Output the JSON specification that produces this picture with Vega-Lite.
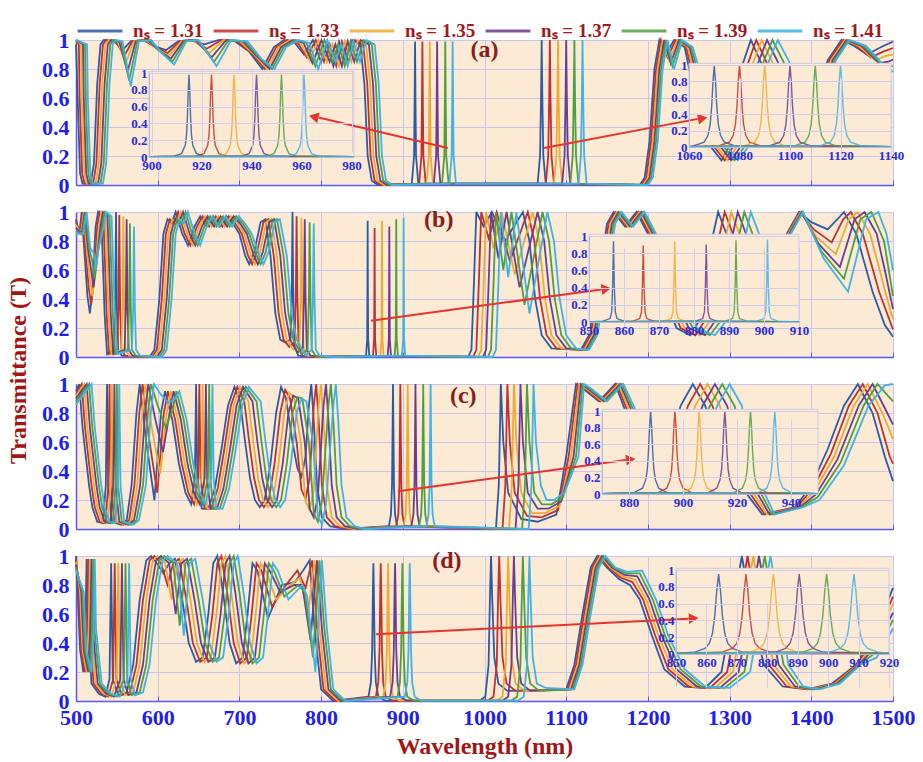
{
  "$schema": "https://vega.github.io/schema/vega-lite/v6.json",
  "background": "white",
  "padding": {"left": 5, "top": 7, "right": 4, "bottom": 2},
  "bounds": "flush",
  "spacing": 27,
  "config": {
    "font": "Liberation Serif",
    "view": {"fill": "#fcead4", "stroke": "#8f8fe6", "strokeWidth": 1},
    "axis": {"labelFont": "Liberation Serif", "labelFontWeight": "bold", "labelColor": "#1e1ef0", "domainColor": "#5a5af0", "domainWidth": 1.5, "tickColor": "#5a5af0", "gridColor": "#c9c5ef", "gridWidth": 1, "titleFont": "Liberation Serif", "titleFontWeight": "bold", "titleColor": "#a31515"},
    "legend": {"symbolType": "stroke", "symbolStrokeWidth": 3, "symbolSize": 2000, "labelFont": "Liberation Serif", "labelFontWeight": "bold", "labelFontSize": 19, "labelColor": "#a5171c", "labelOffset": 9, "columnPadding": 3, "labelLimit": 200}
  },
  "datasets": {
    "a_main": [
      {"s": "nₛ = 1.31", "pts": [[500,0.97],[502,0.6],[505,0.08],[508,0.01],[518,0.01],[522,0.15],[526,0.7],[530,0.97],[534,1.0],[547,0.99],[557,0.93],[567,0.99],[582,1.0],[595,0.96],[610,0.93],[625,0.99],[640,1.0],[657,0.97],[675,1.0],[695,0.99],[712,0.92],[728,0.8],[742,0.95],[755,1.0],[768,0.98],[779,0.9],[790,1.0],[800,0.85],[807,0.97],[815,0.82],[822,0.99],[830,0.85],[838,1.0],[848,0.97],[853,0.7],[857,0.2],[862,0.03],[870,0.0],[911,0.01],[913.8,0.2],[914.5,0.6],[915,0.99],[915.5,0.6],[916.2,0.2],[919,0.01],[1065,0.01],[1068,0.2],[1069.2,0.6],[1070,1.0],[1070.8,0.6],[1072,0.2],[1075,0.01],[1190,0],[1196,0.05],[1202,0.3],[1208,0.8],[1214,1.0],[1222,0.9],[1232,1.0],[1245,0.95],[1258,0.6],[1272,0.3],[1290,0.17],[1303,0.3],[1314,0.8],[1326,1.0],[1338,0.85],[1350,0.6],[1375,0.35],[1398,0.35],[1420,0.86],[1437,1.0],[1452,0.96],[1468,0.9],[1485,0.95],[1500,0.99]]},
      {"s": "nₛ = 1.33", "pts": [[500,0.99],[503.5,0.97],[504.5,0.6],[507.5,0.08],[510.5,0.01],[521,0.01],[525,0.15],[529,0.7],[533,0.97],[537,1.0],[549,0.99],[559,0.89],[569,0.99],[584,1.0],[597,0.95],[612,0.91],[627,0.99],[642,1.0],[660,0.94],[678,1.0],[698,0.99],[715,0.91],[731,0.8],[745,0.95],[758.5,1.0],[771.5,0.98],[782.5,0.88],[793.5,1.0],[803.5,0.85],[810.5,0.97],[818.5,0.82],[825.5,0.99],[833.5,0.85],[841.5,1.0],[851.5,0.97],[856.5,0.7],[860.5,0.2],[865.5,0.03],[873.5,0.0],[920,0.01],[922.8,0.2],[923.5,0.6],[924,0.99],[924.5,0.6],[925.2,0.2],[928,0.01],[1075,0.01],[1078,0.2],[1079.2,0.6],[1080,1.0],[1080.8,0.6],[1082,0.2],[1085,0.01],[1192,0],[1198,0.05],[1204,0.3],[1210,0.8],[1216,1.0],[1224,0.88],[1234,1.0],[1247,0.95],[1261,0.6],[1276,0.3],[1294,0.17],[1308,0.3],[1320,0.8],[1332.6,1.0],[1345,0.85],[1357,0.6],[1380,0.35],[1401,0.35],[1422,0.86],[1439,1.0],[1455,0.96],[1473,0.88],[1488,0.92],[1500,0.945]]},
      {"s": "nₛ = 1.35", "pts": [[500,1.0],[506,0.97],[507,0.6],[510,0.08],[513,0.01],[524,0.01],[528,0.15],[532,0.7],[536,0.97],[540,1.0],[551,0.99],[561,0.84],[571,0.99],[586,1.0],[599,0.94],[614,0.89],[629,0.99],[644,1.0],[663,0.91],[681,1.0],[701,0.99],[718,0.9],[734,0.8],[748,0.95],[762,1.0],[775,0.98],[786,0.86],[797,1.0],[807,0.85],[814,0.97],[822,0.82],[829,0.99],[837,0.85],[845,1.0],[855,0.97],[860,0.7],[864,0.2],[869,0.03],[877,0.0],[929,0.01],[931.8,0.2],[932.5,0.6],[933,0.99],[933.5,0.6],[934.2,0.2],[937,0.01],[1085,0.01],[1088,0.2],[1089.2,0.6],[1090,1.0],[1090.8,0.6],[1092,0.2],[1095,0.01],[1194,0],[1200,0.05],[1206,0.3],[1212,0.8],[1218,1.0],[1226,0.86],[1236,1.0],[1249,0.95],[1264,0.6],[1280,0.3],[1298,0.17],[1313,0.3],[1326,0.8],[1339.2,1.0],[1352,0.85],[1364,0.6],[1385,0.35],[1404,0.35],[1424,0.86],[1441,1.0],[1458,0.96],[1478,0.86],[1491,0.89],[1500,0.9]]},
      {"s": "nₛ = 1.37", "pts": [[500,1.0],[508.5,0.97],[509.5,0.6],[512.5,0.08],[515.5,0.01],[527,0.01],[531,0.15],[535,0.7],[539,0.97],[543,1.0],[553,0.99],[563,0.78],[573,0.99],[588,1.0],[601,0.93],[616,0.87],[631,0.99],[646,1.0],[666,0.88],[684,1.0],[704,0.99],[721,0.89],[737,0.8],[751,0.95],[765.5,1.0],[778.5,0.98],[789.5,0.84],[800.5,1.0],[810.5,0.85],[817.5,0.97],[825.5,0.82],[832.5,0.99],[840.5,0.85],[848.5,1.0],[858.5,0.97],[863.5,0.7],[867.5,0.2],[872.5,0.03],[880.5,0.0],[938,0.01],[940.8,0.2],[941.5,0.6],[942,0.99],[942.5,0.6],[943.2,0.2],[946,0.01],[1095,0.01],[1098,0.2],[1099.2,0.6],[1100,1.0],[1100.8,0.6],[1102,0.2],[1105,0.01],[1196,0],[1202,0.05],[1208,0.3],[1214,0.8],[1220,1.0],[1228,0.84],[1238,1.0],[1251,0.95],[1267,0.6],[1284,0.3],[1302,0.17],[1318,0.3],[1332,0.8],[1345.8,1.0],[1359,0.85],[1371,0.6],[1390,0.35],[1407,0.35],[1426,0.86],[1443,1.0],[1461,0.96],[1483,0.84],[1494,0.85],[1500,0.865]]},
      {"s": "nₛ = 1.39", "pts": [[500,1.0],[511,0.97],[512,0.6],[515,0.08],[518,0.01],[530,0.01],[534,0.15],[538,0.7],[542,0.97],[546,1.0],[555,0.99],[565,0.72],[575,0.99],[590,1.0],[603,0.92],[618,0.85],[633,0.99],[648,1.0],[669,0.85],[687,1.0],[707,0.99],[724,0.88],[740,0.8],[754,0.95],[769,1.0],[782,0.98],[793,0.82],[804,1.0],[814,0.85],[821,0.97],[829,0.82],[836,0.99],[844,0.85],[852,1.0],[862,0.97],[867,0.7],[871,0.2],[876,0.03],[884,0.0],[948,0.01],[950.8,0.2],[951.5,0.6],[952,0.99],[952.5,0.6],[953.2,0.2],[956,0.01],[1105,0.01],[1108,0.2],[1109.2,0.6],[1110,1.0],[1110.8,0.6],[1112,0.2],[1115,0.01],[1198,0],[1204,0.05],[1210,0.3],[1216,0.8],[1222,1.0],[1230,0.82],[1240,1.0],[1253,0.95],[1270,0.6],[1288,0.3],[1306,0.17],[1323,0.3],[1338,0.8],[1352.4,1.0],[1366,0.85],[1378,0.6],[1395,0.35],[1410,0.35],[1428,0.86],[1445,1.0],[1464,0.96],[1488,0.82],[1500,0.82]]},
      {"s": "nₛ = 1.41", "pts": [[500,1.0],[513.5,0.97],[514.5,0.6],[517.5,0.08],[520.5,0.01],[533,0.01],[537,0.15],[541,0.7],[545,0.97],[549,1.0],[557,0.99],[567,0.68],[577,0.99],[592,1.0],[605,0.91],[620,0.83],[635,0.99],[650,1.0],[672,0.82],[690,1.0],[710,0.99],[727,0.87],[743,0.8],[757,0.95],[772.5,1.0],[785.5,0.98],[796.5,0.8],[807.5,1.0],[817.5,0.85],[824.5,0.97],[832.5,0.82],[839.5,0.99],[847.5,0.85],[855.5,1.0],[865.5,0.97],[870.5,0.7],[874.5,0.2],[879.5,0.03],[887.5,0.0],[957,0.01],[959.8,0.2],[960.5,0.6],[961,0.99],[961.5,0.6],[962.2,0.2],[965,0.01],[1115,0.01],[1118,0.2],[1119.2,0.6],[1120,1.0],[1120.8,0.6],[1122,0.2],[1125,0.01],[1200,0],[1206,0.05],[1212,0.3],[1218,0.8],[1224,1.0],[1232,0.8],[1242,1.0],[1255,0.95],[1273,0.6],[1292,0.3],[1310,0.17],[1328,0.3],[1344,0.8],[1359,1.0],[1373,0.85],[1385,0.6],[1400,0.35],[1413,0.35],[1430,0.86],[1447,1.0],[1467,0.96],[1493,0.8],[1500,0.78]]}
    ],
    "a_insL": [
      {"s": "nₛ = 1.31", "pts": [[899,0.003],[909,0.01],[912,0.04],[913.5,0.14],[914,0.26],[914.4,0.5],[914.7,0.8],[915,0.98],[915.3,0.8],[915.6,0.5],[916,0.26],[916.5,0.14],[918,0.04],[921,0.01],[981,0.003]]},
      {"s": "nₛ = 1.33", "pts": [[899,0.003],[918,0.01],[921,0.04],[922.5,0.14],[923,0.26],[923.4,0.5],[923.7,0.8],[924,0.98],[924.3,0.8],[924.6,0.5],[925,0.26],[925.5,0.14],[927,0.04],[930,0.01],[981,0.003]]},
      {"s": "nₛ = 1.35", "pts": [[899,0.003],[927,0.01],[930,0.04],[931.5,0.14],[932,0.26],[932.4,0.5],[932.7,0.8],[933,0.98],[933.3,0.8],[933.6,0.5],[934,0.26],[934.5,0.14],[936,0.04],[939,0.01],[981,0.003]]},
      {"s": "nₛ = 1.37", "pts": [[899,0.003],[936,0.01],[939,0.04],[940.5,0.14],[941,0.26],[941.4,0.5],[941.7,0.8],[942,0.98],[942.3,0.8],[942.6,0.5],[943,0.26],[943.5,0.14],[945,0.04],[948,0.01],[981,0.003]]},
      {"s": "nₛ = 1.39", "pts": [[899,0.003],[946,0.01],[949,0.04],[950.5,0.14],[951,0.26],[951.4,0.5],[951.7,0.8],[952,0.98],[952.3,0.8],[952.6,0.5],[953,0.26],[953.5,0.14],[955,0.04],[958,0.01],[981,0.003]]},
      {"s": "nₛ = 1.41", "pts": [[899,0.003],[955,0.01],[958,0.04],[959.5,0.14],[960,0.26],[960.4,0.5],[960.7,0.8],[961,0.98],[961.3,0.8],[961.6,0.5],[962,0.26],[962.5,0.14],[964,0.04],[967,0.01],[981,0.003]]}
    ],
    "a_insR": [
      {"s": "nₛ = 1.31", "pts": [[1060,0.005],[1062,0.015],[1066,0.06],[1067.5,0.14],[1068.4,0.28],[1069,0.5],[1069.5,0.8],[1070,1.0],[1070.5,0.8],[1071,0.5],[1071.6,0.28],[1072.5,0.14],[1074,0.06],[1078,0.015],[1140,0.005]]},
      {"s": "nₛ = 1.33", "pts": [[1060,0.005],[1072,0.015],[1076,0.06],[1077.5,0.14],[1078.4,0.28],[1079,0.5],[1079.5,0.8],[1080,1.0],[1080.5,0.8],[1081,0.5],[1081.6,0.28],[1082.5,0.14],[1084,0.06],[1088,0.015],[1140,0.005]]},
      {"s": "nₛ = 1.35", "pts": [[1060,0.005],[1082,0.015],[1086,0.06],[1087.5,0.14],[1088.4,0.28],[1089,0.5],[1089.5,0.8],[1090,1.0],[1090.5,0.8],[1091,0.5],[1091.6,0.28],[1092.5,0.14],[1094,0.06],[1098,0.015],[1140,0.005]]},
      {"s": "nₛ = 1.37", "pts": [[1060,0.005],[1092,0.015],[1096,0.06],[1097.5,0.14],[1098.4,0.28],[1099,0.5],[1099.5,0.8],[1100,1.0],[1100.5,0.8],[1101,0.5],[1101.6,0.28],[1102.5,0.14],[1104,0.06],[1108,0.015],[1140,0.005]]},
      {"s": "nₛ = 1.39", "pts": [[1060,0.005],[1102,0.015],[1106,0.06],[1107.5,0.14],[1108.4,0.28],[1109,0.5],[1109.5,0.8],[1110,1.0],[1110.5,0.8],[1111,0.5],[1111.6,0.28],[1112.5,0.14],[1114,0.06],[1118,0.015],[1140,0.005]]},
      {"s": "nₛ = 1.41", "pts": [[1060,0.005],[1112,0.015],[1116,0.06],[1117.5,0.14],[1118.4,0.28],[1119,0.5],[1119.5,0.8],[1120,1.0],[1120.5,0.8],[1121,0.5],[1121.6,0.28],[1122.5,0.14],[1124,0.06],[1128,0.015],[1140,0.005]]}
    ],
    "b_main": [
      {"s": "nₛ = 1.31", "pts": [[500,0.95],[504,0.85],[507,1.0],[510,0.75],[514,0.42],[517,0.3],[520,0.45],[524,0.9],[527,1.0],[531,0.97],[535,0.3],[538,0.02],[546.5,0.05],[548,0.35],[549,1.0],[550,0.35],[551.5,0.05],[556,0.01],[590,0.0],[596,0.05],[602,0.4],[607,0.85],[612,0.95],[617,0.92],[622,1.0],[630,0.85],[637,0.77],[645,0.9],[652,0.97],[660,0.9],[668,0.97],[676,0.9],[684,0.97],[692,0.92],[700,0.85],[707,0.7],[712,0.64],[718,0.72],[726,0.93],[732,0.95],[738,0.7],[744,0.3],[750,0.12],[756,0.1],[762.5,0.12],[764,0.4],[765,1.0],[766,0.4],[767.5,0.08],[772,0.01],[790,0.0],[855,0.01],[856.4,0.12],[856.75,0.5],[857,0.94],[857.25,0.5],[857.6,0.12],[859,0.01],[980,0],[984,0.05],[987,0.5],[990,1.0],[999,0.9],[1009,1.0],[1025,0.8],[1047,1.0],[1055,0.8],[1062,0.4],[1070,0.15],[1082,0.06],[1118,0.05],[1128,0.15],[1140,0.55],[1150,0.92],[1158,1.0],[1172,0.9],[1186,1.0],[1200,0.85],[1215,0.5],[1235,0.2],[1252,0.15],[1268,0.3],[1278,0.8],[1286,1.0],[1296,0.85],[1320,0.5],[1350,0.5],[1370,0.85],[1385,1.0],[1400,0.93],[1420,0.88],[1432,0.95],[1440,1.0],[1455,0.85],[1475,0.45],[1490,0.22],[1500,0.14]]},
      {"s": "nₛ = 1.33", "pts": [[500,0.93],[505,0.85],[508.2,1.0],[511.5,0.75],[515.5,0.48],[518.5,0.36],[521.5,0.51],[526,0.9],[529,1.0],[533.5,0.97],[537.5,0.3],[540.5,0.02],[550.5,0.05],[552,0.35],[553,0.98],[554,0.35],[555.5,0.05],[560,0.01],[593,0.0],[599,0.05],[605,0.4],[610,0.85],[615,0.95],[620,0.92],[625,1.0],[633,0.85],[640,0.77],[648,0.9],[655,0.97],[663,0.9],[671,0.97],[679,0.9],[687,0.97],[695,0.92],[703,0.85],[710.5,0.7],[715.5,0.64],[721.5,0.72],[729.5,0.93],[735.5,0.95],[742,0.7],[748,0.3],[754,0.12],[761,0.07],[767.5,0.1],[769,0.4],[770,0.97],[771,0.4],[772.5,0.07],[777,0.01],[795,0.0],[863.5,0.01],[864.9,0.12],[865.25,0.5],[865.5,0.89],[865.75,0.5],[866.1,0.12],[867.5,0.01],[986,0],[990,0.05],[993,0.5],[996,1.0],[1005,0.82],[1015,1.0],[1031,0.66],[1053,1.0],[1061,0.8],[1068,0.4],[1076,0.15],[1088,0.06],[1120,0.05],[1130,0.15],[1142,0.55],[1152,0.92],[1160,1.0],[1174,0.9],[1188,1.0],[1202,0.85],[1218,0.5],[1240,0.2],[1258,0.15],[1275,0.3],[1286,0.8],[1294,1.0],[1304,0.85],[1326,0.5],[1353,0.5],[1371,0.85],[1386,1.0],[1403,0.88],[1425,0.79],[1439,0.95],[1448.4,1.0],[1463,0.85],[1483,0.45],[1500,0.19]]},
      {"s": "nₛ = 1.35", "pts": [[500,0.91],[506,0.85],[509.4,1.0],[513,0.75],[517,0.54],[520,0.42],[523,0.57],[528,0.9],[531,1.0],[536,0.97],[540,0.3],[543,0.02],[555.5,0.05],[557,0.35],[558,0.97],[559,0.35],[560.5,0.05],[565,0.01],[596,0.0],[602,0.05],[608,0.4],[613,0.85],[618,0.95],[623,0.92],[628,1.0],[636,0.85],[643,0.77],[651,0.9],[658,0.97],[666,0.9],[674,0.97],[682,0.9],[690,0.97],[698,0.92],[706,0.85],[714,0.7],[719,0.64],[725,0.72],[733,0.93],[739,0.95],[746,0.7],[752,0.3],[758,0.12],[766,0.05],[773.5,0.08],[775,0.4],[776,0.96],[777,0.4],[778.5,0.06],[783,0.01],[800,0.0],[872.5,0.01],[873.9,0.12],[874.25,0.5],[874.5,0.94],[874.75,0.5],[875.1,0.12],[876.5,0.01],[992,0],[996,0.05],[999,0.5],[1002,1.0],[1011,0.75],[1021,1.0],[1037,0.57],[1059,1.0],[1067,0.8],[1074,0.4],[1082,0.15],[1094,0.06],[1122,0.05],[1132,0.15],[1144,0.55],[1154,0.92],[1162,1.0],[1176,0.9],[1190,1.0],[1204,0.85],[1221,0.5],[1245,0.2],[1264,0.15],[1282,0.3],[1294,0.8],[1302,1.0],[1312,0.85],[1332,0.5],[1356,0.5],[1372,0.85],[1387,1.0],[1406,0.83],[1430,0.71],[1446,0.95],[1456.8,1.0],[1472,0.85],[1492,0.42],[1500,0.26]]},
      {"s": "nₛ = 1.37", "pts": [[500,0.89],[507,0.85],[510.6,1.0],[514.5,0.75],[518.5,0.6],[521.5,0.48],[524.5,0.63],[530,0.9],[533,1.0],[538.5,0.97],[542.5,0.3],[545.5,0.02],[559.5,0.05],[561,0.35],[562,0.95],[563,0.35],[564.5,0.05],[569,0.01],[599,0.0],[605,0.05],[611,0.4],[616,0.85],[621,0.95],[626,0.92],[631,1.0],[639,0.85],[646,0.77],[654,0.9],[661,0.97],[669,0.9],[677,0.97],[685,0.9],[693,0.97],[701,0.92],[709,0.85],[717.5,0.7],[722.5,0.64],[728.5,0.72],[736.5,0.93],[742.5,0.95],[750,0.7],[756,0.3],[762,0.12],[771,0.03],[777.5,0.06],[779,0.4],[780,0.95],[781,0.4],[782.5,0.05],[787,0.01],[805,0.0],[881.5,0.01],[882.9,0.12],[883.25,0.5],[883.5,0.9],[883.75,0.5],[884.1,0.12],[885.5,0.01],[998,0],[1002,0.05],[1005,0.5],[1008,1.0],[1017,0.68],[1027,1.0],[1043,0.48],[1065,1.0],[1073,0.8],[1080,0.4],[1088,0.15],[1100,0.06],[1124,0.05],[1134,0.15],[1146,0.55],[1156,0.92],[1164,1.0],[1178,0.9],[1192,1.0],[1206,0.85],[1224,0.5],[1250,0.2],[1270,0.15],[1289,0.3],[1302,0.8],[1310,1.0],[1320,0.85],[1338,0.5],[1359,0.5],[1373,0.85],[1388,1.0],[1409,0.78],[1435,0.62],[1453,0.95],[1465.2,1.0],[1480,0.85],[1490,0.6],[1500,0.33]]},
      {"s": "nₛ = 1.39", "pts": [[500,0.87],[508,0.85],[511.8,1.0],[516,0.75],[520,0.66],[523,0.54],[526,0.69],[532,0.9],[535,1.0],[541,0.97],[545,0.3],[548,0.02],[563.5,0.05],[565,0.35],[566,0.92],[567,0.35],[568.5,0.05],[573,0.01],[602,0.0],[608,0.05],[614,0.4],[619,0.85],[624,0.95],[629,0.92],[634,1.0],[642,0.85],[649,0.77],[657,0.9],[664,0.97],[672,0.9],[680,0.97],[688,0.9],[696,0.97],[704,0.92],[712,0.85],[721,0.7],[726,0.64],[732,0.72],[740,0.93],[746,0.95],[754,0.7],[760,0.3],[766,0.12],[776,0.02],[783.5,0.05],[785,0.4],[786,0.93],[787,0.4],[788.5,0.05],[793,0.01],[810,0.0],[890,0.01],[891.4,0.12],[891.75,0.5],[892,0.95],[892.25,0.5],[892.6,0.12],[894,0.01],[1004,0],[1008,0.05],[1011,0.5],[1014,1.0],[1023,0.6],[1033,1.0],[1049,0.36],[1071,1.0],[1079,0.8],[1086,0.4],[1094,0.15],[1106,0.06],[1126,0.05],[1136,0.15],[1148,0.55],[1158,0.92],[1166,1.0],[1180,0.9],[1194,1.0],[1208,0.85],[1227,0.5],[1255,0.2],[1276,0.15],[1296,0.3],[1310,0.8],[1318,1.0],[1328,0.85],[1344,0.5],[1362,0.5],[1374,0.85],[1389,1.0],[1412,0.73],[1440,0.54],[1460,0.95],[1473.6,1.0],[1489,0.8],[1500,0.42]]},
      {"s": "nₛ = 1.41", "pts": [[500,0.85],[509,0.85],[513,1.0],[517.5,0.75],[521.5,0.72],[524.5,0.6],[527.5,0.75],[534,0.9],[537,1.0],[543.5,0.97],[547.5,0.3],[550.5,0.02],[568.5,0.05],[570,0.35],[571,0.9],[572,0.35],[573.5,0.05],[578,0.01],[605,0.0],[611,0.05],[617,0.4],[622,0.85],[627,0.95],[632,0.92],[637,1.0],[645,0.85],[652,0.77],[660,0.9],[667,0.97],[675,0.9],[683,0.97],[691,0.9],[699,0.97],[707,0.92],[715,0.85],[724.5,0.7],[729.5,0.64],[735.5,0.72],[743.5,0.93],[749.5,0.95],[758,0.7],[764,0.3],[770,0.12],[781,0.01],[788.5,0.05],[790,0.4],[791,0.92],[792,0.4],[793.5,0.05],[798,0.01],[815,0.0],[899,0.01],[900.4,0.12],[900.75,0.5],[901,0.96],[901.25,0.5],[901.6,0.12],[903,0.01],[1010,0],[1014,0.05],[1017,0.5],[1020,1.0],[1029,0.55],[1039,1.0],[1055,0.3],[1077,1.0],[1085,0.8],[1092,0.4],[1100,0.15],[1112,0.06],[1128,0.05],[1138,0.15],[1150,0.55],[1160,0.92],[1168,1.0],[1182,0.9],[1196,1.0],[1210,0.85],[1230,0.5],[1260,0.2],[1282,0.15],[1303,0.3],[1318,0.8],[1326,1.0],[1336,0.85],[1350,0.5],[1365,0.5],[1375,0.85],[1390,1.0],[1415,0.68],[1445,0.45],[1467,0.95],[1482,1.0],[1492,0.85],[1500,0.6]]}
    ],
    "b_ins": [
      {"s": "nₛ = 1.31", "pts": [[850,0.002],[854,0.01],[856,0.04],[856.5,0.12],[856.75,0.4],[857,0.94],[857.25,0.4],[857.5,0.12],[858,0.04],[860,0.01],[910,0.002]]},
      {"s": "nₛ = 1.33", "pts": [[850,0.002],[862.5,0.01],[864.5,0.04],[865,0.12],[865.25,0.4],[865.5,0.89],[865.75,0.4],[866,0.12],[866.5,0.04],[868.5,0.01],[910,0.002]]},
      {"s": "nₛ = 1.35", "pts": [[850,0.002],[871.5,0.01],[873.5,0.04],[874,0.12],[874.25,0.4],[874.5,0.94],[874.75,0.4],[875,0.12],[875.5,0.04],[877.5,0.01],[910,0.002]]},
      {"s": "nₛ = 1.37", "pts": [[850,0.002],[880.5,0.01],[882.5,0.04],[883,0.12],[883.25,0.4],[883.5,0.9],[883.75,0.4],[884,0.12],[884.5,0.04],[886.5,0.01],[910,0.002]]},
      {"s": "nₛ = 1.39", "pts": [[850,0.002],[889,0.01],[891,0.04],[891.5,0.12],[891.75,0.4],[892,0.95],[892.25,0.4],[892.5,0.12],[893,0.04],[895,0.01],[910,0.002]]},
      {"s": "nₛ = 1.41", "pts": [[850,0.002],[898,0.01],[900,0.04],[900.5,0.12],[900.75,0.4],[901,0.96],[901.25,0.4],[901.5,0.12],[902,0.04],[904,0.01],[910,0.002]]}
    ],
    "c_main": [
      {"s": "nₛ = 1.31", "pts": [[500,0.95],[504,1.0],[508,0.7],[512,0.5],[516,0.3],[520,0.15],[526,0.05],[533,0.04],[536.5,0.3],[538,1.0],[539.5,0.3],[544,0.05],[555,0.03],[562,0.06],[568,0.3],[574,0.8],[578,1.0],[586,0.6],[596,0.2],[604,0.8],[609,0.95],[618,0.75],[626,0.45],[634,0.25],[641,0.17],[645.5,0.35],[647,1.0],[648.5,0.35],[654,0.14],[662,0.14],[670,0.28],[678,0.55],[686,0.85],[694,0.98],[701,0.88],[707,0.6],[713,0.35],[719,0.2],[725,0.15],[731,0.2],[738,0.45],[745,0.8],[751,0.98],[757,0.9],[765,0.6],[771,0.42],[776,0.36],[781,0.5],[785,0.85],[788,1.0],[791,0.75],[795,0.3],[801,0.08],[811,0.02],[830,0.0],[883,0.02],[885.5,0.1],[886.8,0.3],[887.5,0.7],[888,1.0],[888.5,0.7],[889.2,0.3],[890.5,0.1],[893,0.02],[1014,0.0],[1017.5,0.3],[1020,1.0],[1023,0.6],[1029,0.25],[1045,0.07],[1065,0.05],[1088,0.1],[1100,0.5],[1112,1.0],[1120,0.97],[1140,0.88],[1160,1.0],[1180,0.7],[1200,0.35],[1220,0.4],[1240,0.85],[1255,1.0],[1270,0.85],[1300,0.4],[1340,0.1],[1380,0.15],[1400,0.3],[1420,0.55],[1440,0.85],[1457,1.0],[1475,0.8],[1490,0.5],[1500,0.33]]},
      {"s": "nₛ = 1.33", "pts": [[500,0.93],[507,1.0],[511,0.7],[515,0.5],[519,0.3],[523,0.15],[529,0.05],[536,0.04],[539.5,0.3],[541,1.0],[542.5,0.3],[547,0.05],[558,0.03],[565,0.06],[571.5,0.3],[577.5,0.8],[581.5,1.0],[589.5,0.62],[599.5,0.25],[607.5,0.8],[612.5,0.95],[621.5,0.75],[629.5,0.45],[637.5,0.25],[644.5,0.17],[649.5,0.35],[651,1.0],[652.5,0.35],[657.5,0.14],[665.5,0.14],[673.5,0.28],[681.5,0.55],[689.5,0.85],[697.5,0.98],[706,0.88],[712,0.6],[718,0.35],[724,0.2],[730,0.15],[736,0.2],[743,0.45],[750,0.8],[756,0.96],[762,0.9],[770,0.6],[776,0.27],[781,0.21],[786,0.35],[791,0.85],[794,1.0],[797,0.75],[801,0.3],[807,0.08],[817,0.02],[835,0.0],[892,0.02],[894.5,0.1],[895.8,0.3],[896.5,0.7],[897,1.0],[897.5,0.7],[898.2,0.3],[899.5,0.1],[902,0.02],[1022,0.0],[1025.5,0.3],[1028,1.0],[1031,0.6],[1037,0.25],[1052,0.09],[1070,0.08],[1090,0.13],[1103,0.5],[1114,1.0],[1122,0.97],[1142,0.88],[1162,1.0],[1183,0.7],[1204,0.35],[1226,0.4],[1249,0.85],[1264,1.0],[1279,0.85],[1306,0.4],[1343,0.1],[1382,0.15],[1402,0.28],[1424,0.52],[1446,0.85],[1463,1.0],[1481,0.8],[1496,0.5],[1500,0.45]]},
      {"s": "nₛ = 1.35", "pts": [[500,0.92],[510,1.0],[514,0.7],[518,0.5],[522,0.3],[526,0.15],[532,0.05],[539,0.04],[542.5,0.3],[544,1.0],[545.5,0.3],[550,0.05],[561,0.03],[568,0.06],[575,0.3],[581,0.8],[585,1.0],[593,0.69],[603,0.38],[611,0.8],[616,0.95],[625,0.75],[633,0.45],[641,0.25],[648,0.17],[653.5,0.35],[655,1.0],[656.5,0.35],[661,0.14],[669,0.14],[677,0.28],[685,0.55],[693,0.85],[701,0.98],[711,0.88],[717,0.6],[723,0.35],[729,0.2],[735,0.15],[741,0.2],[748,0.45],[755,0.8],[761,0.94],[767,0.9],[775,0.6],[781,0.19],[786,0.13],[791,0.27],[797,0.85],[800,1.0],[803,0.75],[807,0.3],[813,0.08],[823,0.02],[840,0.0],[901,0.02],[903.5,0.1],[904.8,0.3],[905.5,0.7],[906,1.0],[906.5,0.7],[907.2,0.3],[908.5,0.1],[911,0.02],[1030,0.0],[1033.5,0.3],[1036,1.0],[1039,0.6],[1045,0.25],[1058,0.11],[1074,0.11],[1092,0.16],[1106,0.5],[1116,1.0],[1124,0.97],[1144,0.88],[1164,1.0],[1186,0.7],[1208,0.35],[1232,0.4],[1258,0.85],[1273,1.0],[1288,0.85],[1312,0.4],[1346,0.1],[1384,0.15],[1404,0.26],[1428,0.5],[1452,0.85],[1469,1.0],[1487,0.8],[1500,0.62]]},
      {"s": "nₛ = 1.37", "pts": [[500,0.9],[513,1.0],[517,0.7],[521,0.5],[525,0.3],[529,0.15],[535,0.05],[542,0.04],[545.5,0.3],[547,1.0],[548.5,0.3],[553,0.05],[564,0.03],[571,0.06],[578.5,0.3],[584.5,0.8],[588.5,1.0],[596.5,0.77],[606.5,0.53],[614.5,0.8],[619.5,0.95],[628.5,0.75],[636.5,0.45],[644.5,0.25],[651.5,0.17],[657.5,0.35],[659,1.0],[660.5,0.35],[664.5,0.14],[672.5,0.14],[680.5,0.28],[688.5,0.55],[696.5,0.85],[704.5,0.98],[716,0.88],[722,0.6],[728,0.35],[734,0.2],[740,0.15],[746,0.2],[753,0.45],[760,0.8],[766,0.92],[772,0.9],[780,0.6],[786,0.14],[791,0.08],[796,0.22],[803,0.85],[806,1.0],[809,0.75],[813,0.3],[819,0.08],[829,0.02],[845,0.0],[910.5,0.02],[913,0.1],[914.3,0.3],[915,0.7],[915.5,1.0],[916,0.7],[916.7,0.3],[918,0.1],[920.5,0.02],[1038,0.0],[1041.5,0.3],[1044,1.0],[1047,0.6],[1053,0.25],[1065,0.14],[1078,0.14],[1094,0.19],[1109,0.5],[1118,1.0],[1126,0.97],[1146,0.88],[1166,1.0],[1189,0.7],[1212,0.35],[1238,0.4],[1267,0.85],[1282,1.0],[1297,0.85],[1318,0.4],[1349,0.1],[1386,0.15],[1406,0.24],[1432,0.48],[1458,0.85],[1475,1.0],[1493,0.8],[1500,0.72]]},
      {"s": "nₛ = 1.39", "pts": [[500,0.88],[516,1.0],[520,0.7],[524,0.5],[528,0.3],[532,0.15],[538,0.05],[545,0.04],[548.5,0.3],[550,1.0],[551.5,0.3],[556,0.05],[567,0.03],[574,0.06],[582,0.3],[588,0.8],[592,1.0],[600,0.85],[610,0.7],[618,0.82],[623,0.95],[632,0.75],[640,0.45],[648,0.25],[655,0.17],[661.5,0.35],[663,1.0],[664.5,0.35],[668,0.14],[676,0.14],[684,0.28],[692,0.55],[700,0.85],[708,0.98],[721,0.88],[727,0.6],[733,0.35],[739,0.2],[745,0.15],[751,0.2],[758,0.45],[765,0.8],[771,0.91],[777,0.9],[785,0.6],[791,0.11],[796,0.05],[801,0.19],[809,0.85],[812,1.0],[815,0.75],[819,0.3],[825,0.08],[835,0.02],[850,0.0],[920,0.02],[922.5,0.1],[923.8,0.3],[924.5,0.7],[925,1.0],[925.5,0.7],[926.2,0.3],[927.5,0.1],[930,0.02],[1046,0.0],[1049.5,0.3],[1052,1.0],[1055,0.6],[1061,0.25],[1070,0.17],[1082,0.17],[1096,0.22],[1112,0.5],[1120,1.0],[1128,0.97],[1148,0.88],[1168,1.0],[1192,0.7],[1216,0.35],[1244,0.4],[1276,0.85],[1291,1.0],[1306,0.85],[1324,0.4],[1352,0.1],[1388,0.15],[1408,0.22],[1436,0.46],[1464,0.85],[1481,1.0],[1500,0.88]]},
      {"s": "nₛ = 1.41", "pts": [[500,0.86],[519,1.0],[523,0.7],[527,0.5],[531,0.3],[535,0.15],[541,0.05],[548,0.04],[551.5,0.3],[553,1.0],[554.5,0.3],[559,0.05],[570,0.03],[577,0.06],[585.5,0.3],[591.5,0.8],[595.5,1.0],[603.5,0.93],[613.5,0.87],[621.5,0.9],[626.5,0.95],[635.5,0.75],[643.5,0.45],[651.5,0.25],[658.5,0.17],[665.5,0.35],[667,1.0],[668.5,0.35],[671.5,0.14],[679.5,0.14],[687.5,0.28],[695.5,0.55],[703.5,0.85],[711.5,0.98],[726,0.88],[732,0.6],[738,0.35],[744,0.2],[750,0.15],[756,0.2],[763,0.45],[770,0.8],[776,0.9],[782,0.88],[790,0.6],[796,0.09],[801,0.03],[806,0.17],[815,0.85],[818,1.0],[821,0.75],[825,0.3],[831,0.08],[841,0.02],[855,0.0],[929,0.02],[931.5,0.1],[932.8,0.3],[933.5,0.7],[934,1.0],[934.5,0.7],[935.2,0.3],[936.5,0.1],[939,0.02],[1054,0.0],[1057.5,0.3],[1060,1.0],[1063,0.6],[1069,0.3],[1076,0.2],[1085,0.2],[1098,0.25],[1115,0.5],[1122,1.0],[1130,0.97],[1150,0.88],[1170,1.0],[1195,0.7],[1220,0.35],[1250,0.4],[1285,0.85],[1300,1.0],[1315,0.85],[1330,0.4],[1355,0.1],[1390,0.15],[1410,0.2],[1440,0.44],[1470,0.85],[1490,0.99],[1500,1.0]]}
    ],
    "c_ins": [
      {"s": "nₛ = 1.31", "pts": [[870,0.003],[882,0.02],[885,0.07],[886.2,0.17],[886.8,0.3],[887.2,0.5],[887.6,0.8],[888,1.0],[888.4,0.8],[888.8,0.5],[889.2,0.3],[889.8,0.17],[891,0.07],[894,0.02],[950,0.003]]},
      {"s": "nₛ = 1.33", "pts": [[870,0.003],[891,0.02],[894,0.07],[895.2,0.17],[895.8,0.3],[896.2,0.5],[896.6,0.8],[897,1.0],[897.4,0.8],[897.8,0.5],[898.2,0.3],[898.8,0.17],[900,0.07],[903,0.02],[950,0.003]]},
      {"s": "nₛ = 1.35", "pts": [[870,0.003],[900,0.02],[903,0.07],[904.2,0.17],[904.8,0.3],[905.2,0.5],[905.6,0.8],[906,1.0],[906.4,0.8],[906.8,0.5],[907.2,0.3],[907.8,0.17],[909,0.07],[912,0.02],[950,0.003]]},
      {"s": "nₛ = 1.37", "pts": [[870,0.003],[909.5,0.02],[912.5,0.07],[913.7,0.17],[914.3,0.3],[914.7,0.5],[915.1,0.8],[915.5,1.0],[915.9,0.8],[916.3,0.5],[916.7,0.3],[917.3,0.17],[918.5,0.07],[921.5,0.02],[950,0.003]]},
      {"s": "nₛ = 1.39", "pts": [[870,0.003],[919,0.02],[922,0.07],[923.2,0.17],[923.8,0.3],[924.2,0.5],[924.6,0.8],[925,1.0],[925.4,0.8],[925.8,0.5],[926.2,0.3],[926.8,0.17],[928,0.07],[931,0.02],[950,0.003]]},
      {"s": "nₛ = 1.41", "pts": [[870,0.003],[928,0.02],[931,0.07],[932.2,0.17],[932.8,0.3],[933.2,0.5],[933.6,0.8],[934,1.0],[934.4,0.8],[934.8,0.5],[935.2,0.3],[935.8,0.17],[937,0.07],[940,0.02],[950,0.003]]}
    ],
    "d_main": [
      {"s": "nₛ = 1.31", "pts": [[500,1.0],[502,0.75],[505,0.35],[509,0.2],[511.5,0.5],[513,0.98],[514.5,0.5],[519,0.12],[528,0.05],[536,0.03],[541,0.15],[543,0.95],[545,0.15],[552,0.04],[562,0.06],[570,0.25],[578,0.7],[586,0.97],[592,1.0],[599,0.95],[607,0.88],[614,0.95],[621,0.98],[630,0.7],[638,0.4],[647,0.27],[655,0.3],[662,0.6],[668,0.95],[673,1.0],[680,0.75],[688,0.4],[696,0.26],[704,0.3],[710,0.6],[716,0.95],[722,0.9],[735,0.57],[752,0.8],[768,0.82],[778,0.9],[786,0.97],[792,0.5],[800,0.08],[815,0.0],[858,0.03],[861,0.13],[862.5,0.35],[863.4,0.76],[864,0.95],[864.6,0.76],[865.5,0.35],[867,0.13],[870,0.03],[878,0.003],[994,0.003],[1001,0.03],[1005,0.25],[1006.8,0.75],[1008,1.0],[1009.5,0.7],[1012,0.3],[1017,0.12],[1028,0.07],[1100,0.08],[1110,0.25],[1120,0.6],[1130,0.92],[1138,1.0],[1150,0.92],[1165,0.84],[1178,0.8],[1190,0.7],[1205,0.45],[1220,0.22],[1245,0.1],[1270,0.09],[1290,0.2],[1303,0.6],[1315,1.0],[1327,0.6],[1342,0.25],[1365,0.1],[1395,0.08],[1425,0.12],[1455,0.25],[1480,0.5],[1500,0.78]]},
      {"s": "nₛ = 1.33", "pts": [[500,0.98],[503.5,0.75],[506.5,0.35],[511,0.2],[513.5,0.5],[515,0.98],[516.5,0.5],[521.5,0.12],[531,0.05],[539.5,0.03],[545.4,0.15],[547.4,0.95],[549.4,0.15],[556,0.04],[566,0.06],[574,0.25],[582,0.7],[590,0.97],[596,1.0],[604,0.95],[612,0.8],[619,0.95],[626,0.98],[635,0.7],[643,0.4],[652,0.27],[660,0.3],[667,0.6],[673,0.95],[678,1.0],[685,0.75],[693,0.4],[701,0.26],[709,0.3],[715,0.6],[721,0.95],[727,0.9],[740,0.65],[757,0.8],[771,0.9],[781,0.78],[789,0.97],[795,0.5],[803,0.08],[818,0.0],[867,0.03],[870,0.13],[871.5,0.35],[872.4,0.76],[873,0.95],[873.6,0.76],[874.5,0.35],[876,0.13],[879,0.03],[887,0.003],[1004,0.003],[1011,0.03],[1015,0.25],[1016.8,0.75],[1018,1.0],[1019.5,0.7],[1022,0.3],[1027,0.12],[1038,0.07],[1102,0.08],[1112,0.25],[1122,0.6],[1132,0.92],[1140,1.0],[1152,0.92],[1167,0.85],[1181,0.82],[1194,0.7],[1209,0.45],[1225,0.22],[1250,0.1],[1276,0.09],[1297,0.2],[1310,0.6],[1322,1.0],[1334,0.6],[1348,0.25],[1370,0.1],[1398,0.08],[1427,0.12],[1456,0.25],[1480,0.46],[1500,0.72]]},
      {"s": "nₛ = 1.35", "pts": [[500,0.96],[505,0.75],[508,0.35],[513,0.2],[515.5,0.5],[517,0.98],[518.5,0.5],[524,0.12],[534,0.05],[543,0.03],[549.8,0.15],[551.8,0.95],[553.8,0.15],[560,0.04],[570,0.06],[578,0.25],[586,0.7],[594,0.97],[600,1.0],[609,0.95],[617,0.7],[624,0.95],[631,0.98],[640,0.7],[648,0.4],[657,0.27],[665,0.3],[672,0.6],[678,0.95],[683,1.0],[690,0.75],[698,0.4],[706,0.26],[714,0.3],[720,0.6],[726,0.95],[732,0.9],[745,0.7],[762,0.8],[774,0.85],[784,0.6],[792,0.97],[798,0.5],[806,0.08],[821,0.0],[876,0.03],[879,0.13],[880.5,0.35],[881.4,0.76],[882,0.95],[882.6,0.76],[883.5,0.35],[885,0.13],[888,0.03],[896,0.003],[1015,0.003],[1022,0.03],[1026,0.25],[1027.8,0.75],[1029,1.0],[1030.5,0.7],[1033,0.3],[1038,0.12],[1049,0.07],[1104,0.08],[1114,0.25],[1124,0.6],[1134,0.92],[1142,1.0],[1154,0.92],[1169,0.86],[1184,0.84],[1198,0.7],[1213,0.45],[1230,0.22],[1255,0.1],[1282,0.09],[1304,0.2],[1317,0.6],[1329,1.0],[1341,0.6],[1354,0.25],[1375,0.1],[1401,0.08],[1429,0.12],[1457,0.25],[1480,0.42],[1500,0.67]]},
      {"s": "nₛ = 1.37", "pts": [[500,0.94],[506.5,0.75],[509.5,0.35],[515,0.2],[517.5,0.5],[519,0.98],[520.5,0.5],[526.5,0.12],[537,0.05],[546.5,0.03],[554.2,0.15],[556.2,0.95],[558.2,0.15],[564,0.04],[574,0.06],[582,0.25],[590,0.7],[598,0.97],[604,1.0],[614,0.95],[622,0.6],[629,0.95],[636,0.98],[645,0.7],[653,0.4],[662,0.27],[670,0.3],[677,0.6],[683,0.95],[688,1.0],[695,0.75],[703,0.4],[711,0.26],[719,0.3],[725,0.6],[731,0.95],[737,0.9],[750,0.75],[767,0.8],[777,0.8],[787,0.42],[795,0.97],[801,0.5],[809,0.08],[824,0.0],[884.5,0.03],[887.5,0.13],[889,0.35],[889.9,0.76],[890.5,0.95],[891.1,0.76],[892,0.35],[893.5,0.13],[896.5,0.03],[904.5,0.003],[1022,0.003],[1029,0.03],[1033,0.25],[1034.8,0.75],[1036,1.0],[1037.5,0.7],[1040,0.3],[1045,0.12],[1056,0.07],[1106,0.08],[1116,0.25],[1126,0.6],[1136,0.92],[1144,1.0],[1156,0.92],[1171,0.87],[1187,0.86],[1202,0.7],[1217,0.45],[1235,0.22],[1260,0.1],[1288,0.09],[1311,0.2],[1324,0.6],[1336,1.0],[1348,0.6],[1360,0.25],[1380,0.1],[1404,0.08],[1431,0.12],[1458,0.25],[1480,0.38],[1500,0.61]]},
      {"s": "nₛ = 1.39", "pts": [[500,0.92],[508,0.75],[511,0.35],[517,0.2],[519.5,0.5],[521,0.98],[522.5,0.5],[529,0.12],[540,0.05],[550,0.03],[558.6,0.15],[560.6,0.95],[562.6,0.15],[568,0.04],[578,0.06],[586,0.25],[594,0.7],[602,0.97],[608,1.0],[619,0.95],[627,0.52],[634,0.95],[641,0.98],[650,0.7],[658,0.4],[667,0.27],[675,0.3],[682,0.6],[688,0.95],[693,1.0],[700,0.75],[708,0.4],[716,0.26],[724,0.3],[730,0.6],[736,0.95],[742,0.9],[755,0.72],[772,0.8],[780,0.75],[790,0.3],[798,0.97],[804,0.5],[812,0.08],[827,0.0],[893.5,0.03],[896.5,0.13],[898,0.35],[898.9,0.76],[899.5,0.95],[900.1,0.76],[901,0.35],[902.5,0.13],[905.5,0.03],[913.5,0.003],[1033,0.003],[1040,0.03],[1044,0.25],[1045.8,0.75],[1047,1.0],[1048.5,0.7],[1051,0.3],[1056,0.12],[1067,0.07],[1108,0.08],[1118,0.25],[1128,0.6],[1138,0.92],[1146,1.0],[1158,0.92],[1173,0.88],[1190,0.88],[1206,0.7],[1221,0.45],[1240,0.22],[1265,0.1],[1294,0.09],[1318,0.2],[1331,0.6],[1343,1.0],[1355,0.6],[1366,0.25],[1385,0.1],[1407,0.08],[1433,0.12],[1459,0.25],[1480,0.34],[1500,0.56]]},
      {"s": "nₛ = 1.41", "pts": [[500,0.9],[509.5,0.75],[512.5,0.35],[519,0.2],[521.5,0.5],[523,0.98],[524.5,0.5],[531.5,0.12],[543,0.05],[553.5,0.03],[563,0.15],[565,0.95],[567,0.15],[572,0.04],[582,0.06],[590,0.25],[598,0.7],[606,0.97],[612,1.0],[624,0.95],[632,0.45],[639,0.95],[646,0.98],[655,0.7],[663,0.4],[672,0.27],[680,0.3],[687,0.6],[693,0.95],[698,1.0],[705,0.75],[713,0.4],[721,0.26],[729,0.3],[735,0.6],[741,0.95],[747,0.9],[760,0.7],[777,0.8],[783,0.72],[793,0.2],[801,0.97],[807,0.5],[815,0.08],[830,0.0],[902.5,0.03],[905.5,0.13],[907,0.35],[907.9,0.76],[908.5,0.95],[909.1,0.76],[910,0.35],[911.5,0.13],[914.5,0.03],[922.5,0.003],[1041,0.003],[1048,0.03],[1052,0.25],[1053.8,0.75],[1055,1.0],[1056.5,0.7],[1059,0.3],[1064,0.12],[1075,0.09],[1110,0.08],[1120,0.25],[1130,0.6],[1140,0.92],[1148,1.0],[1160,0.92],[1175,0.89],[1193,0.9],[1210,0.7],[1225,0.45],[1245,0.22],[1270,0.1],[1300,0.09],[1325,0.2],[1338,0.6],[1350,1.0],[1362,0.6],[1372,0.25],[1390,0.1],[1410,0.08],[1435,0.12],[1460,0.25],[1480,0.3],[1500,0.5]]}
    ],
    "d_ins": [
      {"s": "nₛ = 1.31", "pts": [[850,0.01],[856,0.02],[859.5,0.066],[861,0.13],[862,0.25],[862.8,0.475],[863.4,0.76],[864,0.95],[864.6,0.76],[865.2,0.475],[866,0.25],[867,0.13],[868.5,0.066],[872,0.02],[920,0.01]]},
      {"s": "nₛ = 1.33", "pts": [[850,0.01],[865,0.02],[868.5,0.066],[870,0.13],[871,0.25],[871.8,0.475],[872.4,0.76],[873,0.95],[873.6,0.76],[874.2,0.475],[875,0.25],[876,0.13],[877.5,0.066],[881,0.02],[920,0.01]]},
      {"s": "nₛ = 1.35", "pts": [[850,0.01],[874,0.02],[877.5,0.066],[879,0.13],[880,0.25],[880.8,0.475],[881.4,0.76],[882,0.95],[882.6,0.76],[883.2,0.475],[884,0.25],[885,0.13],[886.5,0.066],[890,0.02],[920,0.01]]},
      {"s": "nₛ = 1.37", "pts": [[850,0.01],[882.5,0.02],[886,0.066],[887.5,0.13],[888.5,0.25],[889.3,0.475],[889.9,0.76],[890.5,0.95],[891.1,0.76],[891.7,0.475],[892.5,0.25],[893.5,0.13],[895,0.066],[898.5,0.02],[920,0.01]]},
      {"s": "nₛ = 1.39", "pts": [[850,0.01],[891.5,0.02],[895,0.066],[896.5,0.13],[897.5,0.25],[898.3,0.475],[898.9,0.76],[899.5,0.95],[900.1,0.76],[900.7,0.475],[901.5,0.25],[902.5,0.13],[904,0.066],[907.5,0.02],[920,0.01]]},
      {"s": "nₛ = 1.41", "pts": [[850,0.01],[900.5,0.02],[904,0.066],[905.5,0.13],[906.5,0.25],[907.3,0.475],[907.9,0.76],[908.5,0.95],[909.1,0.76],[909.7,0.475],[910.5,0.25],[911.5,0.13],[913,0.066],[916.5,0.02],[920,0.01]]}
    ]
  },
  "vconcat": [
    {
      "width": 817, "height": 145,
      "layer": [
        {"data": {"name": "a_main"}, "transform": [{"flatten": ["pts"]}],
         "mark": {"type": "line", "strokeWidth": 1.8},
         "encoding": {
           "x": {"field": "pts[0]", "type": "quantitative", "scale": {"domain": [500, 1500], "nice": false, "zero": false}, "axis": {"values": [500,600,700,800,900,1000,1100,1200,1300,1400,1500], "grid": true, "labels": false, "ticks": true, "tickSize": -5, "title": null}},
           "y": {"field": "pts[1]", "type": "quantitative", "scale": {"domain": [0, 1], "nice": false, "zero": false}, "axis": {"values": [0,0.2,0.4,0.6,0.8,1], "format": "~g", "grid": true, "ticks": false, "labelFontSize": 22, "labelPadding": 7, "title": null}},
           "color": {"field": "s", "type": "nominal", "scale": {"domain": ["nₛ = 1.31","nₛ = 1.33","nₛ = 1.35","nₛ = 1.37","nₛ = 1.39","nₛ = 1.41"], "range": ["#2d5aa6","#c4302b","#f2aa2e","#6c3d8f","#4e9f3d","#40b2e6"]}, "legend": {"title": null, "orient": "none", "legendX": 0, "legendY": -33, "direction": "horizontal", "columns": 6}}
         }},
        {"layer": [
          {"data": {"values": [{}]}, "mark": {"type": "rect", "fill": "#fcead4", "stroke": "#cfcbe0", "strokeWidth": 1},
           "encoding": {
             "x": {"datum": 899, "type": "quantitative", "scale": {"domain": [899, 981], "range": [73, 278], "nice": false, "zero": false}, "axis": {"orient": "bottom", "offset": -28, "values": [900,920,940,960,980], "format": "d", "labelFlush": false, "grid": true, "gridColor": "#d2cdee", "ticks": false, "labelFontSize": 13, "labelColor": "#2b2be0", "labelPadding": 2, "domainColor": "#b9b6d6", "domainWidth": 1, "title": null, "zindex": 1}},
             "x2": {"datum": 981},
             "y": {"datum": 0, "type": "quantitative", "scale": {"domain": [0, 1], "range": [117, 33], "nice": false, "zero": false}, "axis": {"orient": "left", "offset": -73, "values": [0,0.2,0.4,0.6,0.8,1], "format": "~g", "grid": true, "gridColor": "#d2cdee", "ticks": false, "labelFontSize": 13, "labelColor": "#2b2be0", "labelPadding": 2, "domainColor": "#b9b6d6", "domainWidth": 1, "title": null, "zindex": 1}},
             "y2": {"datum": 1.02}
           }},
          {"data": {"name": "a_insL"}, "transform": [{"flatten": ["pts"]}], "mark": {"type": "line", "strokeWidth": 1.4, "opacity": 0.85},
           "encoding": {
             "x": {"field": "pts[0]", "type": "quantitative", "scale": {"domain": [899, 981], "range": [73, 278], "nice": false, "zero": false}, "axis": {"orient": "bottom", "offset": -28, "values": [900,920,940,960,980], "format": "d", "labelFlush": false, "grid": true, "gridColor": "#d2cdee", "ticks": false, "labelFontSize": 13, "labelColor": "#2b2be0", "labelPadding": 2, "domainColor": "#b9b6d6", "domainWidth": 1, "title": null, "zindex": 1}},
             "y": {"field": "pts[1]", "type": "quantitative", "scale": {"domain": [0, 1], "range": [117, 33], "nice": false, "zero": false}, "axis": {"orient": "left", "offset": -73, "values": [0,0.2,0.4,0.6,0.8,1], "format": "~g", "grid": true, "gridColor": "#d2cdee", "ticks": false, "labelFontSize": 13, "labelColor": "#2b2be0", "labelPadding": 2, "domainColor": "#b9b6d6", "domainWidth": 1, "title": null, "zindex": 1}},
             "color": {"field": "s", "type": "nominal", "scale": {"domain": ["nₛ = 1.31","nₛ = 1.33","nₛ = 1.35","nₛ = 1.37","nₛ = 1.39","nₛ = 1.41"], "range": ["#2d5aa6","#c4302b","#f2aa2e","#6c3d8f","#4e9f3d","#40b2e6"]}, "legend": {"title": null, "orient": "none", "legendX": 0, "legendY": -33, "direction": "horizontal", "columns": 6}}
           }}
        ]},
        {"layer": [
          {"data": {"values": [{}]}, "mark": {"type": "rect", "fill": "#fcead4", "stroke": "#cfcbe0", "strokeWidth": 1},
           "encoding": {
             "x": {"datum": 1060, "type": "quantitative", "scale": {"domain": [1060, 1140], "range": [613, 815], "nice": false, "zero": false}, "axis": {"orient": "bottom", "offset": -38, "values": [1060,1080,1100,1120,1140], "format": "d", "labelFlush": false, "grid": true, "gridColor": "#d2cdee", "ticks": false, "labelFontSize": 13, "labelColor": "#2b2be0", "labelPadding": 2, "domainColor": "#b9b6d6", "domainWidth": 1, "title": null, "zindex": 1}},
             "x2": {"datum": 1140},
             "y": {"datum": 0, "type": "quantitative", "scale": {"domain": [0, 1], "range": [107, 25], "nice": false, "zero": false}, "axis": {"orient": "left", "offset": -613, "values": [0,0.2,0.4,0.6,0.8,1], "format": "~g", "grid": true, "gridColor": "#d2cdee", "ticks": false, "labelFontSize": 13, "labelColor": "#2b2be0", "labelPadding": 2, "domainColor": "#b9b6d6", "domainWidth": 1, "title": null, "zindex": 1}},
             "y2": {"datum": 1.02}
           }},
          {"data": {"name": "a_insR"}, "transform": [{"flatten": ["pts"]}], "mark": {"type": "line", "strokeWidth": 1.4, "opacity": 0.85},
           "encoding": {
             "x": {"field": "pts[0]", "type": "quantitative", "scale": {"domain": [1060, 1140], "range": [613, 815], "nice": false, "zero": false}, "axis": {"orient": "bottom", "offset": -38, "values": [1060,1080,1100,1120,1140], "format": "d", "labelFlush": false, "grid": true, "gridColor": "#d2cdee", "ticks": false, "labelFontSize": 13, "labelColor": "#2b2be0", "labelPadding": 2, "domainColor": "#b9b6d6", "domainWidth": 1, "title": null, "zindex": 1}},
             "y": {"field": "pts[1]", "type": "quantitative", "scale": {"domain": [0, 1], "range": [107, 25], "nice": false, "zero": false}, "axis": {"orient": "left", "offset": -613, "values": [0,0.2,0.4,0.6,0.8,1], "format": "~g", "grid": true, "gridColor": "#d2cdee", "ticks": false, "labelFontSize": 13, "labelColor": "#2b2be0", "labelPadding": 2, "domainColor": "#b9b6d6", "domainWidth": 1, "title": null, "zindex": 1}},
             "color": {"field": "s", "type": "nominal", "scale": {"domain": ["nₛ = 1.31","nₛ = 1.33","nₛ = 1.35","nₛ = 1.37","nₛ = 1.39","nₛ = 1.41"], "range": ["#2d5aa6","#c4302b","#f2aa2e","#6c3d8f","#4e9f3d","#40b2e6"]}, "legend": {"title": null, "orient": "none", "legendX": 0, "legendY": -33, "direction": "horizontal", "columns": 6}}
           }}
        ]},
        {"data": {"values": [{}]},
         "layer": [
          {"mark": {"type": "rule", "color": "#e8342c", "strokeWidth": 2},
           "encoding": {"x": {"datum": 955, "type": "quantitative", "scale": {"domain": [500, 1500], "nice": false, "zero": false}, "axis": null}, "y": {"datum": 0.255, "type": "quantitative", "scale": {"domain": [0, 1], "nice": false, "zero": false}, "axis": null}, "x2": {"datum": 797}, "y2": {"datum": 0.466}}},
          {"mark": {"type": "point", "shape": "triangle-right", "angle": 193, "size": 120, "filled": true, "opacity": 1, "color": "#e8342c"},
           "encoding": {"x": {"datum": 791, "type": "quantitative", "scale": {"domain": [500, 1500], "nice": false, "zero": false}, "axis": null}, "y": {"datum": 0.47, "type": "quantitative", "scale": {"domain": [0, 1], "nice": false, "zero": false}, "axis": null}}},
          {"mark": {"type": "rule", "color": "#e8342c", "strokeWidth": 2},
           "encoding": {"x": {"datum": 1073, "type": "quantitative", "scale": {"domain": [500, 1500], "nice": false, "zero": false}, "axis": null}, "y": {"datum": 0.255, "type": "quantitative", "scale": {"domain": [0, 1], "nice": false, "zero": false}, "axis": null}, "x2": {"datum": 1261}, "y2": {"datum": 0.456}}},
          {"mark": {"type": "point", "shape": "triangle-right", "angle": 349, "size": 120, "filled": true, "opacity": 1, "color": "#e8342c"},
           "encoding": {"x": {"datum": 1267, "type": "quantitative", "scale": {"domain": [500, 1500], "nice": false, "zero": false}, "axis": null}, "y": {"datum": 0.46, "type": "quantitative", "scale": {"domain": [0, 1], "nice": false, "zero": false}, "axis": null}}},
          {"mark": {"type": "text", "font": "Liberation Serif", "fontWeight": "bold", "fontSize": 24, "color": "#8b1c1c"},
           "encoding": {"x": {"datum": 1000, "type": "quantitative", "scale": {"domain": [500, 1500], "nice": false, "zero": false}, "axis": null}, "y": {"datum": 0.93, "type": "quantitative", "scale": {"domain": [0, 1], "nice": false, "zero": false}, "axis": null}, "text": {"value": "(a)"}}}
        ]}
      ],
      "resolve": {"scale": {"x": "independent", "y": "independent"}, "axis": {"x": "independent", "y": "independent"}}
    },
    {
      "width": 817, "height": 145,
      "layer": [
        {"data": {"name": "b_main"}, "transform": [{"flatten": ["pts"]}],
         "mark": {"type": "line", "strokeWidth": 1.8},
         "encoding": {
           "x": {"field": "pts[0]", "type": "quantitative", "scale": {"domain": [500, 1500], "nice": false, "zero": false}, "axis": {"values": [500,600,700,800,900,1000,1100,1200,1300,1400,1500], "grid": true, "labels": false, "ticks": true, "tickSize": -5, "title": null}},
           "y": {"field": "pts[1]", "type": "quantitative", "scale": {"domain": [0, 1], "nice": false, "zero": false}, "axis": {"values": [0,0.2,0.4,0.6,0.8,1], "format": "~g", "grid": true, "ticks": false, "labelFontSize": 22, "labelPadding": 7, "title": "Transmittance (T)", "titleFontSize": 24, "titleX": -46, "titleY": 158, "titleAlign": "center", "titleAngle": -90}},
           "color": {"field": "s", "type": "nominal", "scale": {"domain": ["nₛ = 1.31","nₛ = 1.33","nₛ = 1.35","nₛ = 1.37","nₛ = 1.39","nₛ = 1.41"], "range": ["#2d5aa6","#c4302b","#f2aa2e","#6c3d8f","#4e9f3d","#40b2e6"]}, "legend": {"title": null, "orient": "none", "legendX": 0, "legendY": -33, "direction": "horizontal", "columns": 6}}
         }},
        {"layer": [
          {"data": {"values": [{}]}, "mark": {"type": "rect", "fill": "#fcead4", "stroke": "#cfcbe0", "strokeWidth": 1},
           "encoding": {
             "x": {"datum": 850, "type": "quantitative", "scale": {"domain": [850, 910], "range": [513, 723], "nice": false, "zero": false}, "axis": {"orient": "bottom", "offset": -35, "values": [850,860,870,880,890,900,910], "format": "d", "labelFlush": false, "grid": true, "gridColor": "#d2cdee", "ticks": false, "labelFontSize": 13, "labelColor": "#2b2be0", "labelPadding": 2, "domainColor": "#b9b6d6", "domainWidth": 1, "title": null, "zindex": 1}},
             "x2": {"datum": 910},
             "y": {"datum": 0, "type": "quantitative", "scale": {"domain": [0, 1], "range": [110, 24], "nice": false, "zero": false}, "axis": {"orient": "left", "offset": -513, "values": [0,0.2,0.4,0.6,0.8,1], "format": "~g", "grid": true, "gridColor": "#d2cdee", "ticks": false, "labelFontSize": 13, "labelColor": "#2b2be0", "labelPadding": 2, "domainColor": "#b9b6d6", "domainWidth": 1, "title": null, "zindex": 1}},
             "y2": {"datum": 1.02}
           }},
          {"data": {"name": "b_ins"}, "transform": [{"flatten": ["pts"]}], "mark": {"type": "line", "strokeWidth": 1.4, "opacity": 0.85},
           "encoding": {
             "x": {"field": "pts[0]", "type": "quantitative", "scale": {"domain": [850, 910], "range": [513, 723], "nice": false, "zero": false}, "axis": {"orient": "bottom", "offset": -35, "values": [850,860,870,880,890,900,910], "format": "d", "labelFlush": false, "grid": true, "gridColor": "#d2cdee", "ticks": false, "labelFontSize": 13, "labelColor": "#2b2be0", "labelPadding": 2, "domainColor": "#b9b6d6", "domainWidth": 1, "title": null, "zindex": 1}},
             "y": {"field": "pts[1]", "type": "quantitative", "scale": {"domain": [0, 1], "range": [110, 24], "nice": false, "zero": false}, "axis": {"orient": "left", "offset": -513, "values": [0,0.2,0.4,0.6,0.8,1], "format": "~g", "grid": true, "gridColor": "#d2cdee", "ticks": false, "labelFontSize": 13, "labelColor": "#2b2be0", "labelPadding": 2, "domainColor": "#b9b6d6", "domainWidth": 1, "title": null, "zindex": 1}},
             "color": {"field": "s", "type": "nominal", "scale": {"domain": ["nₛ = 1.31","nₛ = 1.33","nₛ = 1.35","nₛ = 1.37","nₛ = 1.39","nₛ = 1.41"], "range": ["#2d5aa6","#c4302b","#f2aa2e","#6c3d8f","#4e9f3d","#40b2e6"]}, "legend": {"title": null, "orient": "none", "legendX": 0, "legendY": -33, "direction": "horizontal", "columns": 6}}
           }}
        ]},
        {"data": {"values": [{}]},
         "layer": [
          {"mark": {"type": "rule", "color": "#e8342c", "strokeWidth": 2},
           "encoding": {"x": {"datum": 861, "type": "quantitative", "scale": {"domain": [500, 1500], "nice": false, "zero": false}, "axis": null}, "y": {"datum": 0.25, "type": "quantitative", "scale": {"domain": [0, 1], "nice": false, "zero": false}, "axis": null}, "x2": {"datum": 1143}, "y2": {"datum": 0.466}}},
          {"mark": {"type": "point", "shape": "triangle-right", "angle": 352, "size": 120, "filled": true, "opacity": 1, "color": "#e8342c"},
           "encoding": {"x": {"datum": 1149, "type": "quantitative", "scale": {"domain": [500, 1500], "nice": false, "zero": false}, "axis": null}, "y": {"datum": 0.47, "type": "quantitative", "scale": {"domain": [0, 1], "nice": false, "zero": false}, "axis": null}}},
          {"mark": {"type": "text", "font": "Liberation Serif", "fontWeight": "bold", "fontSize": 24, "color": "#8b1c1c"},
           "encoding": {"x": {"datum": 944, "type": "quantitative", "scale": {"domain": [500, 1500], "nice": false, "zero": false}, "axis": null}, "y": {"datum": 0.945, "type": "quantitative", "scale": {"domain": [0, 1], "nice": false, "zero": false}, "axis": null}, "text": {"value": "(b)"}}}
        ]}
      ],
      "resolve": {"scale": {"x": "independent", "y": "independent"}, "axis": {"x": "independent", "y": "independent"}}
    },
    {
      "width": 817, "height": 145,
      "layer": [
        {"data": {"name": "c_main"}, "transform": [{"flatten": ["pts"]}],
         "mark": {"type": "line", "strokeWidth": 1.8},
         "encoding": {
           "x": {"field": "pts[0]", "type": "quantitative", "scale": {"domain": [500, 1500], "nice": false, "zero": false}, "axis": {"values": [500,600,700,800,900,1000,1100,1200,1300,1400,1500], "grid": true, "labels": false, "ticks": true, "tickSize": -5, "title": null}},
           "y": {"field": "pts[1]", "type": "quantitative", "scale": {"domain": [0, 1], "nice": false, "zero": false}, "axis": {"values": [0,0.2,0.4,0.6,0.8,1], "format": "~g", "grid": true, "ticks": false, "labelFontSize": 22, "labelPadding": 7, "title": null}},
           "color": {"field": "s", "type": "nominal", "scale": {"domain": ["nₛ = 1.31","nₛ = 1.33","nₛ = 1.35","nₛ = 1.37","nₛ = 1.39","nₛ = 1.41"], "range": ["#2d5aa6","#c4302b","#f2aa2e","#6c3d8f","#4e9f3d","#40b2e6"]}, "legend": {"title": null, "orient": "none", "legendX": 0, "legendY": -33, "direction": "horizontal", "columns": 6}}
         }},
        {"layer": [
          {"data": {"values": [{}]}, "mark": {"type": "rect", "fill": "#fcead4", "stroke": "#cfcbe0", "strokeWidth": 1},
           "encoding": {
             "x": {"datum": 870, "type": "quantitative", "scale": {"domain": [870, 950], "range": [526, 742], "nice": false, "zero": false}, "axis": {"orient": "bottom", "offset": -35, "values": [880,900,920,940], "format": "d", "labelFlush": false, "grid": true, "gridColor": "#d2cdee", "ticks": false, "labelFontSize": 13, "labelColor": "#2b2be0", "labelPadding": 2, "domainColor": "#b9b6d6", "domainWidth": 1, "title": null, "zindex": 1}},
             "x2": {"datum": 950},
             "y": {"datum": 0, "type": "quantitative", "scale": {"domain": [0, 1], "range": [110, 27], "nice": false, "zero": false}, "axis": {"orient": "left", "offset": -526, "values": [0,0.2,0.4,0.6,0.8,1], "format": "~g", "grid": true, "gridColor": "#d2cdee", "ticks": false, "labelFontSize": 13, "labelColor": "#2b2be0", "labelPadding": 2, "domainColor": "#b9b6d6", "domainWidth": 1, "title": null, "zindex": 1}},
             "y2": {"datum": 1.02}
           }},
          {"data": {"name": "c_ins"}, "transform": [{"flatten": ["pts"]}], "mark": {"type": "line", "strokeWidth": 1.4, "opacity": 0.85},
           "encoding": {
             "x": {"field": "pts[0]", "type": "quantitative", "scale": {"domain": [870, 950], "range": [526, 742], "nice": false, "zero": false}, "axis": {"orient": "bottom", "offset": -35, "values": [880,900,920,940], "format": "d", "labelFlush": false, "grid": true, "gridColor": "#d2cdee", "ticks": false, "labelFontSize": 13, "labelColor": "#2b2be0", "labelPadding": 2, "domainColor": "#b9b6d6", "domainWidth": 1, "title": null, "zindex": 1}},
             "y": {"field": "pts[1]", "type": "quantitative", "scale": {"domain": [0, 1], "range": [110, 27], "nice": false, "zero": false}, "axis": {"orient": "left", "offset": -526, "values": [0,0.2,0.4,0.6,0.8,1], "format": "~g", "grid": true, "gridColor": "#d2cdee", "ticks": false, "labelFontSize": 13, "labelColor": "#2b2be0", "labelPadding": 2, "domainColor": "#b9b6d6", "domainWidth": 1, "title": null, "zindex": 1}},
             "color": {"field": "s", "type": "nominal", "scale": {"domain": ["nₛ = 1.31","nₛ = 1.33","nₛ = 1.35","nₛ = 1.37","nₛ = 1.39","nₛ = 1.41"], "range": ["#2d5aa6","#c4302b","#f2aa2e","#6c3d8f","#4e9f3d","#40b2e6"]}, "legend": {"title": null, "orient": "none", "legendX": 0, "legendY": -33, "direction": "horizontal", "columns": 6}}
           }}
        ]},
        {"data": {"values": [{}]},
         "layer": [
          {"mark": {"type": "rule", "color": "#e8342c", "strokeWidth": 2},
           "encoding": {"x": {"datum": 894, "type": "quantitative", "scale": {"domain": [500, 1500], "nice": false, "zero": false}, "axis": null}, "y": {"datum": 0.26, "type": "quantitative", "scale": {"domain": [0, 1], "nice": false, "zero": false}, "axis": null}, "x2": {"datum": 1173}, "y2": {"datum": 0.476}}},
          {"mark": {"type": "point", "shape": "triangle-right", "angle": 352, "size": 120, "filled": true, "opacity": 1, "color": "#e8342c"},
           "encoding": {"x": {"datum": 1179, "type": "quantitative", "scale": {"domain": [500, 1500], "nice": false, "zero": false}, "axis": null}, "y": {"datum": 0.48, "type": "quantitative", "scale": {"domain": [0, 1], "nice": false, "zero": false}, "axis": null}}},
          {"mark": {"type": "text", "font": "Liberation Serif", "fontWeight": "bold", "fontSize": 24, "color": "#8b1c1c"},
           "encoding": {"x": {"datum": 974, "type": "quantitative", "scale": {"domain": [500, 1500], "nice": false, "zero": false}, "axis": null}, "y": {"datum": 0.92, "type": "quantitative", "scale": {"domain": [0, 1], "nice": false, "zero": false}, "axis": null}, "text": {"value": "(c)"}}}
        ]}
      ],
      "resolve": {"scale": {"x": "independent", "y": "independent"}, "axis": {"x": "independent", "y": "independent"}}
    },
    {
      "width": 817, "height": 145,
      "layer": [
        {"data": {"name": "d_main"}, "transform": [{"flatten": ["pts"]}],
         "mark": {"type": "line", "strokeWidth": 1.8},
         "encoding": {
           "x": {"field": "pts[0]", "type": "quantitative", "scale": {"domain": [500, 1500], "nice": false, "zero": false}, "axis": {"values": [500,600,700,800,900,1000,1100,1200,1300,1400,1500], "format": "d", "grid": true, "labels": true, "labelFlush": false, "ticks": true, "tickSize": -5, "labelFontSize": 22, "labelPadding": 11, "title": "Wavelength (nm)", "titleFontSize": 24, "titlePadding": 6}},
           "y": {"field": "pts[1]", "type": "quantitative", "scale": {"domain": [0, 1], "nice": false, "zero": false}, "axis": {"values": [0,0.2,0.4,0.6,0.8,1], "format": "~g", "grid": true, "ticks": false, "labelFontSize": 22, "labelPadding": 7, "title": null}},
           "color": {"field": "s", "type": "nominal", "scale": {"domain": ["nₛ = 1.31","nₛ = 1.33","nₛ = 1.35","nₛ = 1.37","nₛ = 1.39","nₛ = 1.41"], "range": ["#2d5aa6","#c4302b","#f2aa2e","#6c3d8f","#4e9f3d","#40b2e6"]}, "legend": {"title": null, "orient": "none", "legendX": 0, "legendY": -33, "direction": "horizontal", "columns": 6}}
         }},
        {"layer": [
          {"data": {"values": [{}]}, "mark": {"type": "rect", "fill": "#fcead4", "stroke": "#cfcbe0", "strokeWidth": 1},
           "encoding": {
             "x": {"datum": 850, "type": "quantitative", "scale": {"domain": [850, 920], "range": [600, 813], "nice": false, "zero": false}, "axis": {"orient": "bottom", "offset": -47, "values": [850,860,870,880,890,900,910,920], "format": "d", "labelFlush": false, "grid": true, "gridColor": "#d2cdee", "ticks": false, "labelFontSize": 13, "labelColor": "#2b2be0", "labelPadding": 2, "domainColor": "#b9b6d6", "domainWidth": 1, "title": null, "zindex": 1}},
             "x2": {"datum": 920},
             "y": {"datum": 0, "type": "quantitative", "scale": {"domain": [0, 1], "range": [98, 14], "nice": false, "zero": false}, "axis": {"orient": "left", "offset": -600, "values": [0,0.2,0.4,0.6,0.8,1], "format": "~g", "grid": true, "gridColor": "#d2cdee", "ticks": false, "labelFontSize": 13, "labelColor": "#2b2be0", "labelPadding": 2, "domainColor": "#b9b6d6", "domainWidth": 1, "title": null, "zindex": 1}},
             "y2": {"datum": 1.02}
           }},
          {"data": {"name": "d_ins"}, "transform": [{"flatten": ["pts"]}], "mark": {"type": "line", "strokeWidth": 1.4, "opacity": 0.85},
           "encoding": {
             "x": {"field": "pts[0]", "type": "quantitative", "scale": {"domain": [850, 920], "range": [600, 813], "nice": false, "zero": false}, "axis": {"orient": "bottom", "offset": -47, "values": [850,860,870,880,890,900,910,920], "format": "d", "labelFlush": false, "grid": true, "gridColor": "#d2cdee", "ticks": false, "labelFontSize": 13, "labelColor": "#2b2be0", "labelPadding": 2, "domainColor": "#b9b6d6", "domainWidth": 1, "title": null, "zindex": 1}},
             "y": {"field": "pts[1]", "type": "quantitative", "scale": {"domain": [0, 1], "range": [98, 14], "nice": false, "zero": false}, "axis": {"orient": "left", "offset": -600, "values": [0,0.2,0.4,0.6,0.8,1], "format": "~g", "grid": true, "gridColor": "#d2cdee", "ticks": false, "labelFontSize": 13, "labelColor": "#2b2be0", "labelPadding": 2, "domainColor": "#b9b6d6", "domainWidth": 1, "title": null, "zindex": 1}},
             "color": {"field": "s", "type": "nominal", "scale": {"domain": ["nₛ = 1.31","nₛ = 1.33","nₛ = 1.35","nₛ = 1.37","nₛ = 1.39","nₛ = 1.41"], "range": ["#2d5aa6","#c4302b","#f2aa2e","#6c3d8f","#4e9f3d","#40b2e6"]}, "legend": {"title": null, "orient": "none", "legendX": 0, "legendY": -33, "direction": "horizontal", "columns": 6}}
           }}
        ]},
        {"data": {"values": [{}]},
         "layer": [
          {"mark": {"type": "rule", "color": "#e8342c", "strokeWidth": 2},
           "encoding": {"x": {"datum": 867, "type": "quantitative", "scale": {"domain": [500, 1500], "nice": false, "zero": false}, "axis": null}, "y": {"datum": 0.46, "type": "quantitative", "scale": {"domain": [0, 1], "nice": false, "zero": false}, "axis": null}, "x2": {"datum": 1250}, "y2": {"datum": 0.568}}},
          {"mark": {"type": "point", "shape": "triangle-right", "angle": 357, "size": 120, "filled": true, "opacity": 1, "color": "#e8342c"},
           "encoding": {"x": {"datum": 1256, "type": "quantitative", "scale": {"domain": [500, 1500], "nice": false, "zero": false}, "axis": null}, "y": {"datum": 0.57, "type": "quantitative", "scale": {"domain": [0, 1], "nice": false, "zero": false}, "axis": null}}},
          {"mark": {"type": "text", "font": "Liberation Serif", "fontWeight": "bold", "fontSize": 24, "color": "#8b1c1c"},
           "encoding": {"x": {"datum": 954, "type": "quantitative", "scale": {"domain": [500, 1500], "nice": false, "zero": false}, "axis": null}, "y": {"datum": 0.965, "type": "quantitative", "scale": {"domain": [0, 1], "nice": false, "zero": false}, "axis": null}, "text": {"value": "(d)"}}}
        ]}
      ],
      "resolve": {"scale": {"x": "independent", "y": "independent"}, "axis": {"x": "independent", "y": "independent"}}
    }
  ]
}
